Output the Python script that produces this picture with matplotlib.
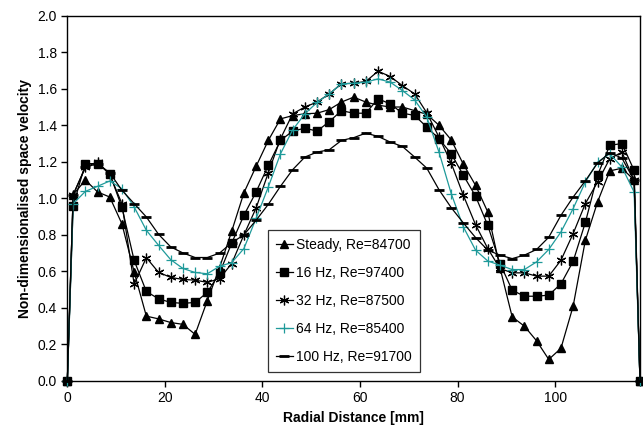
import numpy as np
import matplotlib.pyplot as plt

plt.rcParams['font.family'] = ['Liberation Sans', 'DejaVu Sans']

# Posiciones radiales [mm]
radial = [0, 1.2, 3.7, 6.2, 8.7, 11.2, 13.7, 16.2, 18.7, 21.2, 23.7, 26.2, 28.7,
          31.2, 33.7, 36.2, 38.7, 41.2, 43.7, 46.2, 48.7, 51.2, 53.7, 56.2, 58.7,
          61.2, 63.7, 66.2, 68.7, 71.2, 73.7, 76.2, 78.7, 81.2, 83.7, 86.2, 88.7,
          91.2, 93.7, 96.2, 98.7, 101.2, 103.7, 106.2, 108.7, 111.2, 113.7, 116.2, 117.4]

steady = [0, 1.02, 1.10, 1.035, 1.007, 0.86, 0.597, 0.355, 0.34, 0.32, 0.31, 0.255, 0.44,
          0.62, 0.82, 1.03, 1.175, 1.317, 1.435, 1.453, 1.463, 1.466, 1.486, 1.527, 1.554,
          1.527, 1.51, 1.50, 1.50, 1.48, 1.46, 1.40, 1.32, 1.186, 1.071, 0.925, 0.62,
          0.351, 0.30, 0.22, 0.118, 0.179, 0.41, 0.77, 0.98, 1.15, 1.165, 1.10, 0]

hz16 = [0, 0.96, 1.19, 1.19, 1.135, 0.95, 0.66, 0.49, 0.45, 0.43, 0.425, 0.43, 0.485,
        0.59, 0.755, 0.907, 1.035, 1.18, 1.317, 1.368, 1.384, 1.368, 1.42, 1.48, 1.466,
        1.466, 1.545, 1.517, 1.466, 1.454, 1.39, 1.326, 1.244, 1.126, 1.011, 0.852, 0.643,
        0.497, 0.464, 0.464, 0.47, 0.532, 0.655, 0.868, 1.126, 1.29, 1.30, 1.153, 0]

hz32 = [0, 1.02, 1.17, 1.20, 1.13, 0.97, 0.53, 0.675, 0.595, 0.567, 0.556, 0.552, 0.54,
        0.56, 0.643, 0.80, 0.947, 1.14, 1.326, 1.463, 1.50, 1.527, 1.572, 1.627, 1.63,
        1.64, 1.696, 1.667, 1.617, 1.572, 1.468, 1.335, 1.193, 1.016, 0.855, 0.725, 0.616,
        0.592, 0.592, 0.574, 0.574, 0.661, 0.807, 0.971, 1.089, 1.217, 1.253, 1.098, 0]

hz64 = [0, 0.971, 1.038, 1.066, 1.095, 1.053, 0.953, 0.825, 0.743, 0.664, 0.616, 0.594, 0.587,
        0.628, 0.648, 0.725, 0.89, 1.062, 1.244, 1.375, 1.463, 1.525, 1.572, 1.627, 1.63,
        1.636, 1.654, 1.636, 1.59, 1.539, 1.444, 1.253, 1.026, 0.843, 0.716, 0.657, 0.634,
        0.61, 0.61, 0.652, 0.72, 0.816, 0.944, 1.089, 1.198, 1.244, 1.171, 1.034, 0]

hz100 = [0, 1.02, 1.17, 1.19, 1.14, 1.044, 0.971, 0.898, 0.803, 0.734, 0.701, 0.676, 0.676,
         0.70, 0.757, 0.80, 0.88, 0.967, 1.066, 1.157, 1.226, 1.253, 1.266, 1.317, 1.332,
         1.357, 1.339, 1.308, 1.284, 1.226, 1.165, 1.047, 0.949, 0.865, 0.785, 0.716, 0.689,
         0.67, 0.689, 0.72, 0.787, 0.907, 1.007, 1.096, 1.193, 1.25, 1.22, 1.10, 0]

etiquetas = ["Steady, Re=84700", "16 Hz, Re=97400", "32 Hz, Re=87500",
             "64 Hz, Re=85400", "100 Hz, Re=91700"]

fig = plt.figure(figsize=(6.43, 4.43), dpi=100)
ax = fig.add_axes([0.1047, 0.14, 0.8906, 0.8246])

ax.plot(radial, steady, color="black", lw=0.9, marker="^", ms=5.5, label=etiquetas[0], clip_on=False)
ax.plot(radial, hz16, color="black", lw=0.9, marker="s", ms=5.5, label=etiquetas[1], clip_on=False)
ax.plot(radial, hz32, color="black", lw=0.9, marker=(6, 2, 0), ms=7, mew=0.9, label=etiquetas[2], clip_on=False)
ax.plot(radial, hz64, color="#1f9a9a", lw=0.9, marker="+", ms=7, mew=0.9, label=etiquetas[3], clip_on=False)
ax.plot(radial, hz100, color="black", lw=0.9, marker="_", ms=7, mew=2, label=etiquetas[4], clip_on=False)

ax.set_xlim(0, 117.4)
ax.set_ylim(0, 2.0)
ax.set_xticks([0, 20, 40, 60, 80, 100])
ax.set_yticks(np.arange(0, 2.01, 0.2))
ax.set_yticklabels([f"{v:.1f}" for v in np.arange(0, 2.01, 0.2)])
ax.tick_params(axis="both", direction="out", length=4, width=1, labelsize=10, colors="black")
ax.tick_params(top=False, right=False)
for s in ax.spines.values():
    s.set_linewidth(1)
    s.set_color("black")

ax.set_xlabel("Radial Distance [mm]", fontsize=10, fontweight="bold")
ax.set_ylabel("Non-dimensionalised space velocity", fontsize=10, fontweight="bold")

leg = ax.legend(loc="lower left", bbox_to_anchor=(0.35, 0.025), frameon=True, fancybox=False,
                edgecolor="black", fontsize=10, handlelength=1.2, handletextpad=0.25,
                labelspacing=1.0, borderpad=0.6, borderaxespad=0)
leg.get_frame().set_linewidth(0.9)

fig.savefig("out.png", dpi=100)
